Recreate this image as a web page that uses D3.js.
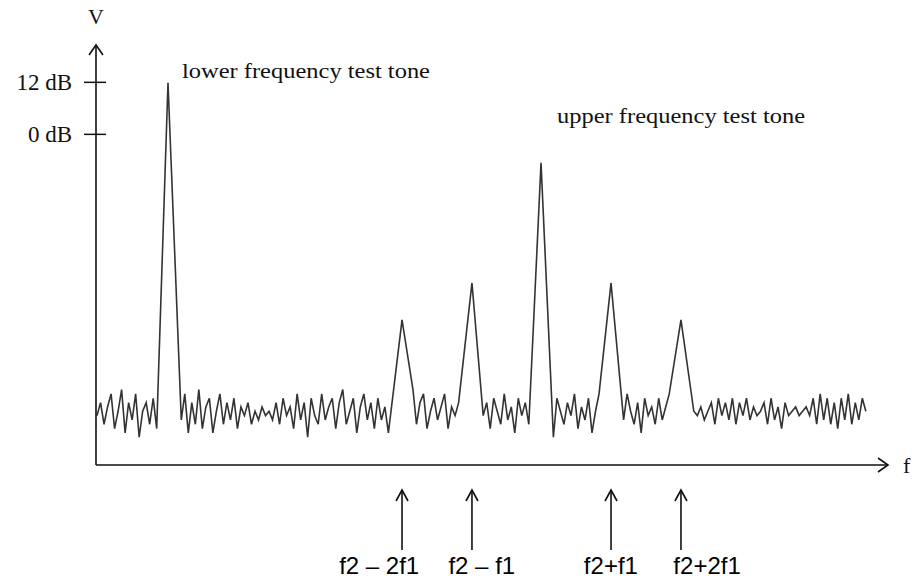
<!DOCTYPE html>
<html><head><meta charset="utf-8">
<script src="https://cdn.jsdelivr.net/npm/d3@7"></script>
<style>
html,body{margin:0;padding:0;background:#fff;}
svg{display:block;}
</style></head>
<body>
<svg id="chart" width="917" height="580"></svg>
<script>
// ---- data ----
const yTickValues = [12, 0];
const yTickLabels = ["12 dB", "0 dB"];
const yAxisLabel = "V";
const xAxisLabel = "f";

// spectral peaks (frequency in arbitrary units, level in dB)
const peakNames  = ["lower", "f2-2f1", "f2-f1", "upper", "f2+f1", "f2+2f1"];
const peakFreq   = [9.09, 38.64, 47.47, 56.19, 65.03, 73.86];
const peakLevel  = [11.8, -42.9, -34.4, -6.7, -34.4, -42.9];

// noise floor readings (dB), uniformly spaced from noiseStart to noiseEnd
const noiseStart = 0.13, noiseEnd = 97.2;
const noise = [
 -65,-62,-67,-63,-60,-68,-64,-59,-69,-62,
 -66,-60,-70,-64,-62,-67,-61,-68,-59,-66,
 -62,-65,-63,-61,-66,-60,-69,-62,-67,-59,
 -68,-63,-61,-69,-64,-60,-67,-62,-66,-61,
 -68,-63,-65,-62,-67,-64,-66,-63,-65,-64,
 -66,-62,-67,-61,-65,-63,-68,-60,-66,-62,
 -70,-61,-65,-67,-60,-66,-63,-61,-68,-62,
 -59,-67,-64,-61,-69,-63,-60,-66,-62,-68,
 -61,-66,-63,-69,-60,-65,-62,-67,-61,-64,
 -59,-67,-62,-60,-68,-64,-61,-66,-63,-60,
 -68,-63,-65,-62,-69,-61,-66,-64,-67,-60,
 -65,-62,-68,-61,-64,-67,-60,-66,-63,-69,
 -61,-65,-62,-67,-60,-68,-63,-61,-66,-62,
 -70,-61,-64,-67,-62,-65,-60,-68,-63,-66,
 -61,-69,-64,-60,-67,-62,-65,-61,-68,-63,
 -66,-60,-64,-67,-62,-69,-61,-65,-63,-67,
 -61,-66,-63,-60,-68,-64,-62,-67,-61,-65,
 -64,-65,-63,-66,-64,-62,-67,-61,-65,-62,
 -66,-61,-67,-62,-65,-61,-66,-63,-65,-64,
 -62,-67,-61,-66,-63,-68,-62,-65,-64,-63,
 -65,-64,-63,-65,-61,-67,-60,-66,-61,-67,
 -62,-68,-61,-66,-60,-67,-62,-66,-61,-64
];

// annotations
const toneLabels     = ["lower frequency test tone", "upper frequency test tone"];
const toneLabelPeaks = [0, 3];
const productNames   = ["f2 \u2013 2f1", "f2 \u2013 f1", "f2+f1", "f2+2f1"];
const productPeaks   = [1, 2, 4, 5];
const productLabelStart = [30.7, 44.5, 61.6, 72.9];

// ---- scales ----
const svg = d3.select("#chart");
const x = d3.scaleLinear().domain([0, 100]).range([96, 888]);
const y = d3.scaleLinear().domain([-76.4, 20.5]).range([465, 45]);
const peakHalf = 1.33;

// build spectrum line
const pts = [];
const step = (noiseEnd - noiseStart) / (noise.length - 1);
noise.forEach((v, i) => {
  const f = noiseStart + i * step;
  const inPeak = peakFreq.some(p => Math.abs(f - p) < peakHalf);
  if (!inPeak) pts.push([f, v]);
});
peakFreq.forEach((p, i) => pts.push([p, peakLevel[i]]));
pts.sort((a, b) => a[0] - b[0]);

const line = d3.line().x(d => x(d[0])).y(d => y(d[1]));
svg.append("path").datum(pts)
  .attr("d", line)
  .attr("fill", "none")
  .attr("stroke", "#333")
  .attr("stroke-width", 1.6)
  .attr("stroke-linejoin", "miter");

// ---- axes ----
const axisColor = "#111";
const x0 = x(0), yBase = y.range()[0], yTop = y.range()[1], xEnd = x.range()[1];
const serif = "'Liberation Serif', 'Times New Roman', serif";

const yAxis = d3.axisLeft(y).tickValues(yTickValues)
  .tickFormat((d, i) => yTickLabels[i]).tickSize(12).tickPadding(12);
const gy = svg.append("g").attr("transform", `translate(${x0},0)`).call(yAxis);
gy.select(".domain").remove();
gy.selectAll(".tick line").attr("x1", 10).attr("x2", -12)
  .attr("stroke", axisColor).attr("stroke-width", 1.5);
gy.selectAll(".tick text")
  .attr("font-family", serif)
  .attr("font-size", 23).attr("fill", "#111").attr("x", -24).attr("dy", "0.33em");

svg.append("line").attr("x1", x0).attr("x2", x0).attr("y1", yBase).attr("y2", yTop + 1)
  .attr("stroke", axisColor).attr("stroke-width", 1.6);
svg.append("path").attr("d", `M${x0-7},${yTop+10}L${x0},${yTop}L${x0+7},${yTop+10}`)
  .attr("fill", "none").attr("stroke", axisColor).attr("stroke-width", 1.6);

svg.append("line").attr("x1", x0).attr("x2", xEnd - 1).attr("y1", yBase).attr("y2", yBase)
  .attr("stroke", axisColor).attr("stroke-width", 1.6);
svg.append("path").attr("d", `M${xEnd-10},${yBase-7}L${xEnd},${yBase}L${xEnd-10},${yBase+7}`)
  .attr("fill", "none").attr("stroke", axisColor).attr("stroke-width", 1.6);

svg.append("text").attr("x", x0).attr("y", 24).attr("text-anchor", "middle")
  .attr("font-family", serif).attr("font-size", 22).attr("fill", "#111").text(yAxisLabel);
svg.append("text").attr("x", xEnd + 15).attr("y", yBase + 8)
  .attr("font-family", serif).attr("font-size", 22).attr("fill", "#111").text(xAxisLabel);

// tone labels
const toneDx = [14, 16];
const toneY = [78, 123];
toneLabels.forEach((t, i) => {
  const pi = toneLabelPeaks[i];
  svg.append("text").attr("x", x(peakFreq[pi]) + toneDx[i]).attr("y", toneY[i])
    .attr("font-family", serif).attr("font-size", 22).attr("fill", "#111")
    .attr("textLength", 248).attr("lengthAdjust", "spacingAndGlyphs")
    .text(t);
});

// product arrows and labels
const arrowTop = 490, arrowBottom = 550;
productPeaks.forEach((pi, i) => {
  const px = x(peakFreq[pi]);
  svg.append("line").attr("x1", px).attr("x2", px).attr("y1", arrowBottom).attr("y2", arrowTop + 1)
    .attr("stroke", axisColor).attr("stroke-width", 1.6);
  svg.append("path").attr("d", `M${px-6},${arrowTop+11}L${px},${arrowTop}L${px+6},${arrowTop+11}`)
    .attr("fill", "none").attr("stroke", axisColor).attr("stroke-width", 1.6);
  svg.append("text").attr("x", x(productLabelStart[i])).attr("y", 574)
    .attr("font-family", "'Liberation Sans', Arial, sans-serif").attr("font-size", 24)
    .attr("fill", "#000").text(productNames[i]);
});
</script>
</body></html>
